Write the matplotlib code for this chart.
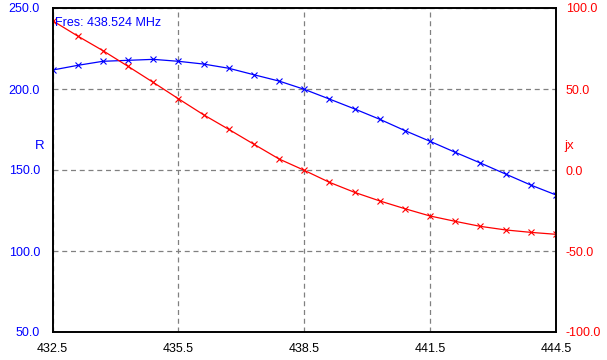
import matplotlib
matplotlib.use("Agg")
import matplotlib.pyplot as plt
import numpy as np

plt.rcParams['font.family'] = ['Liberation Sans', 'DejaVu Sans']

freq = [432.5, 433.1, 433.7, 434.3, 434.9, 435.5, 436.1, 436.7, 437.3, 437.9,
        438.5, 439.1, 439.7, 440.3, 440.9, 441.5, 442.1, 442.7, 443.3, 443.9, 444.5]
R_vals = [211.7, 214.6, 217.1, 217.7, 218.3, 217.1, 215.4, 212.8, 208.8, 204.9,
          199.8, 193.8, 187.7, 181.3, 174.3, 167.7, 160.9, 154.3, 147.5, 140.7, 134.6]
X_vals = [92.2, 82.7, 73.7, 64.0, 54.1, 44.0, 34.1, 25.1, 15.9, 6.8,
          -0.2, -7.6, -13.8, -19.1, -23.9, -28.4, -31.7, -34.8, -37.0, -38.5, -39.7]
x_ticks = [432.5, 435.5, 438.5, 441.5, 444.5]
r_ticks = [50, 100, 150, 200, 250]
x_right_ticks = [-100, -50, 0, 50, 100]
fres_text = "Fres: 438.524 MHz"

W, H = 607, 360
fig = plt.figure(figsize=(W / 100, H / 100), dpi=100)
L, Rr, T, B = 52.5, 556, 8, 332
ax = fig.add_axes([L / W, 1 - B / H, (Rr - L) / W, (B - T) / H])
ax2 = ax.twinx()

blue = '#0000FF'
red = '#FF0000'

ax.plot(freq, R_vals, color=blue, lw=0.9, marker='x', ms=4.5, mew=0.8)
ax2.plot(freq, X_vals, color=red, lw=0.9, marker='x', ms=4.5, mew=0.8)

ax.set_xlim(432.5, 444.5)
ax.set_ylim(50, 250)
ax2.set_ylim(-100, 100)
ax.set_xticks(x_ticks)
ax.set_xticklabels([f"{v:.1f}" for v in x_ticks])
ax.set_yticks(r_ticks)
ax.set_yticklabels([f"{v:.1f}" for v in r_ticks])
ax2.set_yticks(x_right_ticks)
ax2.set_yticklabels([f"{v:.1f}" for v in x_right_ticks])

ax.grid(True, color='#808080', linestyle=(0, (4, 3)), linewidth=0.9)
ax.set_axisbelow(True)

ax.tick_params(axis='x', length=0, pad=8, labelsize=9, colors='black')
ax.tick_params(axis='y', length=0, pad=9, labelsize=9, labelcolor=blue)
ax2.tick_params(axis='y', length=0, pad=7, labelsize=9, labelcolor=red)

for a in (ax, ax2):
    for s in a.spines.values():
        s.set_color('black')
        s.set_linewidth(1.2)

fig.text(40 / W, 1 - 146 / H, "R", color=blue, fontsize=9.5, ha='center', va='center')
fig.text(569 / W, 1 - 146 / H, "jx", color=red, fontsize=9.5, ha='center', va='center')
fig.text(55 / W, 1 - 23 / H, fres_text, color=blue, fontsize=9, ha='left', va='center')

fig.savefig("out.png", dpi=100)
